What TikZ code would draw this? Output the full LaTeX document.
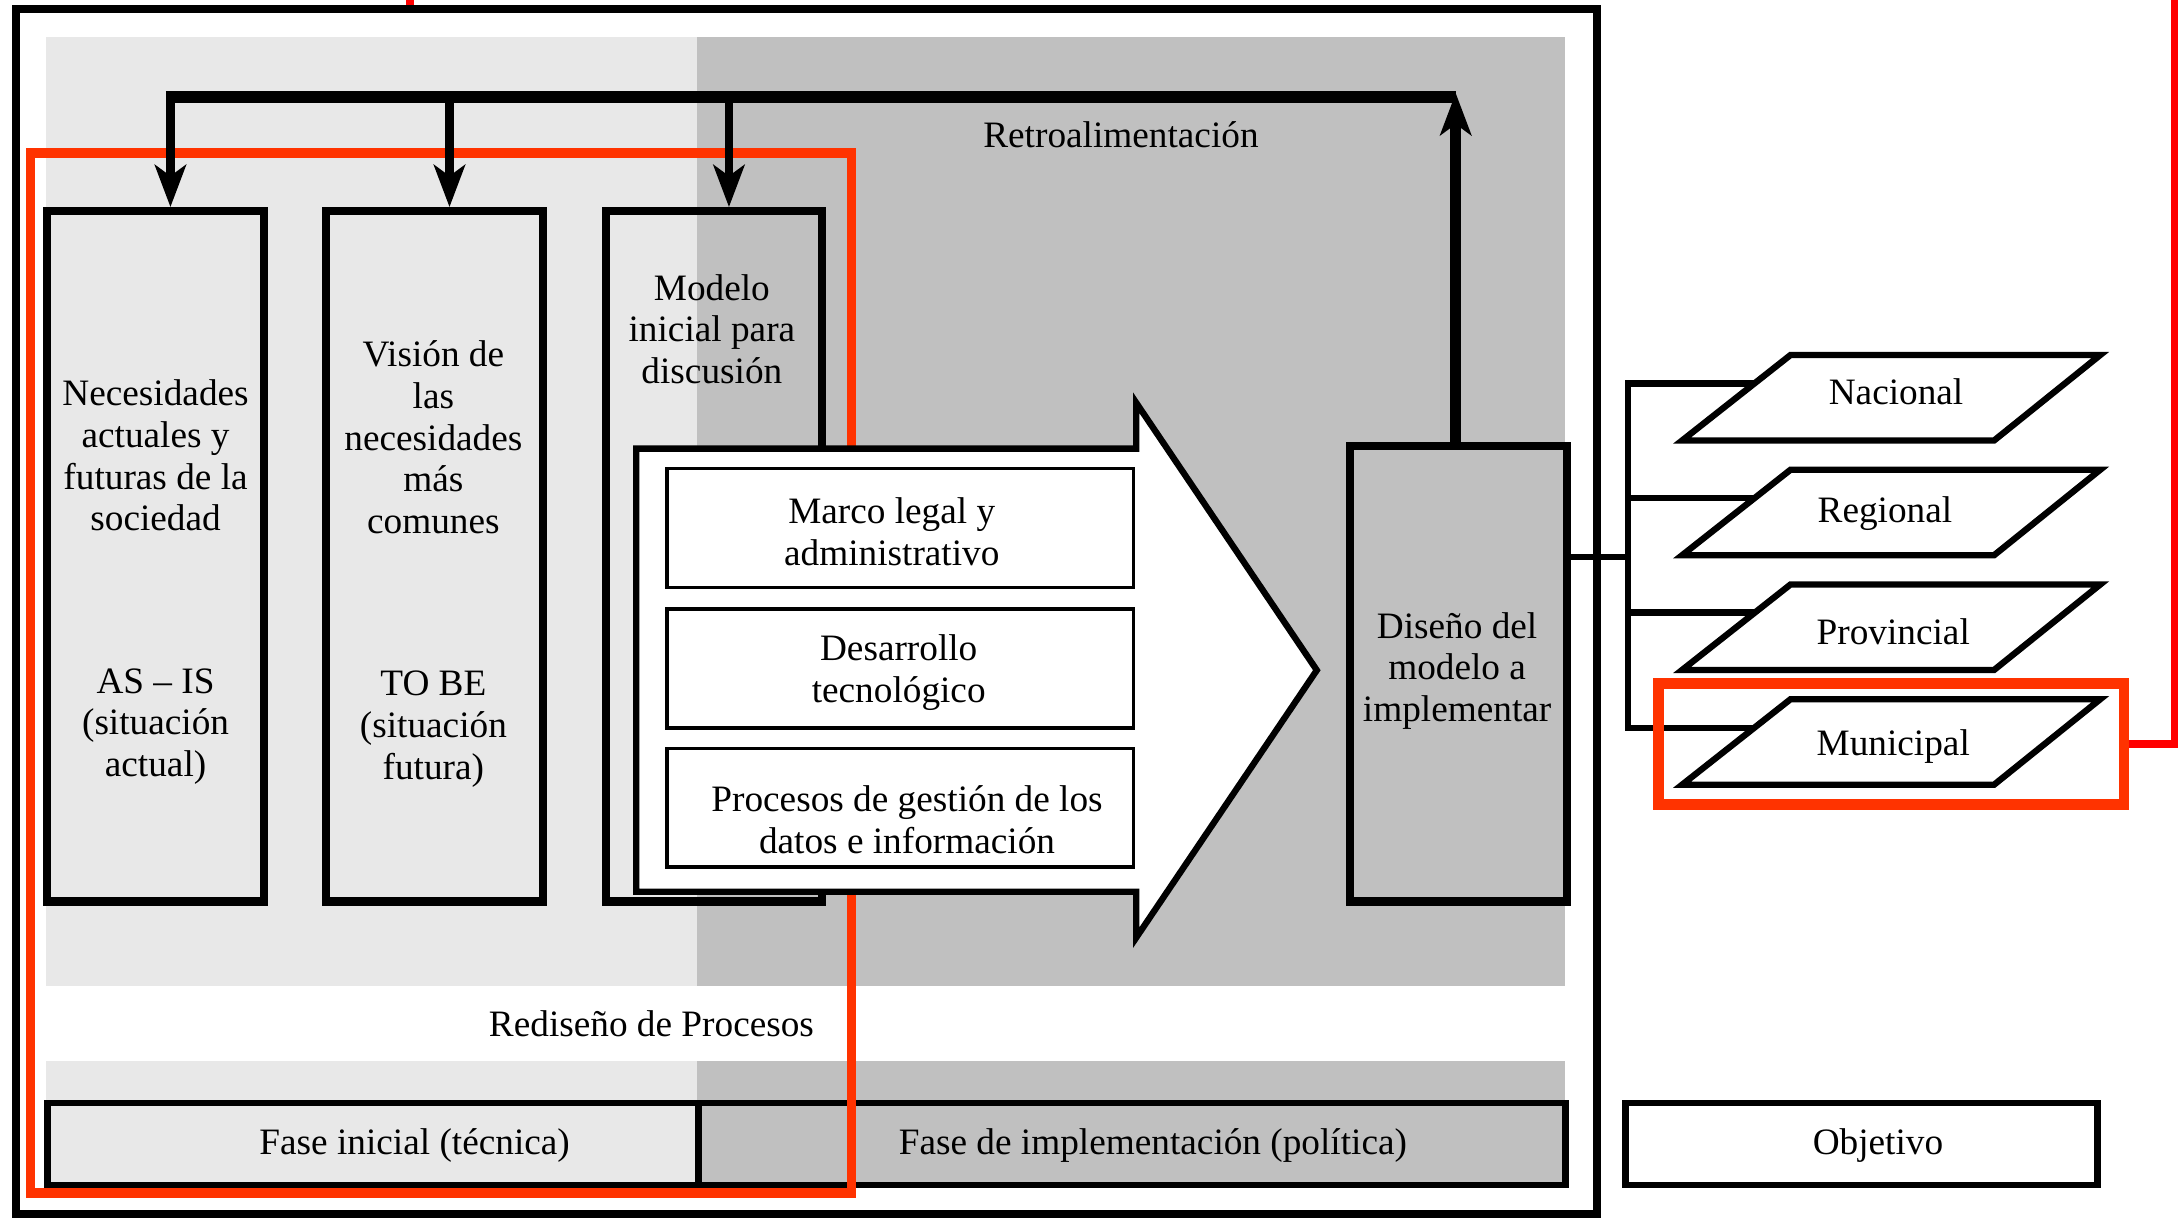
\documentclass[tikz,border=0pt]{standalone}
\usepackage{fontspec}
\setmainfont{Liberation Serif}
\usetikzlibrary{arrows.meta}
\definecolor{lgray}{HTML}{E8E8E8}
\definecolor{dgray}{HTML}{C0C0C0}
\definecolor{redo}{HTML}{FF3300}
\definecolor{redp}{HTML}{FF0000}
\def\myu{0.0138903cm}
\begin{document}
\begin{tikzpicture}[x=0.0138903cm, y=-0.0138903cm,
  txt/.style={font=\fontsize{10.6}{11.85}\selectfont, align=center, inner sep=0pt},
  col/.style={draw, line width=2.3pt, inner sep=0pt, minimum width=156*\myu, minimum height=497*\myu},
  inbox/.style={draw, line width=1pt, fill=white, inner sep=0pt, minimum width=336*\myu, minimum height=85.6*\myu},
  phase/.style={draw, line width=1.9pt, inner sep=0pt, minimum height=59*\myu},
  stemarrow/.style={line width=2.4pt, -{Stealth[length=0.42cm, width=0.31cm, inset=0.11cm]}},
  uparrow/.style={line width=3pt, -{Stealth[length=0.42cm, width=0.31cm, inset=0.11cm]}},
  conn/.style={line width=1.8pt, line join=miter},
  para/.style={draw, line width=1.8pt, fill=white, line join=miter},
  redline/.style={draw=redp, line width=2.3pt}
]
\useasboundingbox (0,0) rectangle (1568,877);

% backgrounds
\fill[lgray] (33,26.6) rectangle (502,710);
\fill[dgray] (502,26.6) rectangle (1127,710);
\fill[lgray] (33,764) rectangle (502,794);
\fill[dgray] (502,764) rectangle (1127,794);

% outer frame
\node[draw, line width=2.3pt, inner sep=0pt, minimum width=1138.5*\myu, minimum height=867.5*\myu] (frame) at (580.75,440.25) {};

% phase bar
\node[phase, fill=lgray, minimum width=469*\myu] (ph1) at (268.5,823.5) {};
\node[phase, fill=dgray, minimum width=624*\myu] (ph2) at (815,823.5) {};
\node[phase, fill=white, minimum width=340*\myu] (obj) at (1340,823.5) {};
\node[txt] (tph1) at (298.5,825) {Fase inicial (técnica)};
\node[txt] (tph2) at (830,825) {Fase de implementación (política)};
\node[txt] (tobj) at (1352,825) {Objetivo};
\node[txt] (tred) at (469,737) {Rediseño de Procesos};
\node[txt] (tretro) at (807,97) {Retroalimentación};

% column boxes
\node[col] (b1) at (112,400.5) {};
\node[col] (b2) at (313,400.5) {};
\node[col] (b3) at (514,400.5) {};
\node[col, minimum height=328*\myu] (dis) at (1050,485) {};

\node[txt] (t1a) at (112,328) {Necesidades\\actuales y\\futuras de la\\sociedad};
\node[txt] (t1b) at (112,523) {AS – IS\\(situación\\actual)};
\node[txt] (t2a) at (312,315) {Visión de\\las\\necesidades\\más\\comunes};
\node[txt] (t2b) at (312,525) {TO BE\\(situación\\futura)};
\node[txt] (t3a) at (512.5,237) {Modelo\\inicial para\\discusión};
\node[txt] (tdis) at (1049,483) {Diseño del\\modelo a\\implementar};

% red focus rectangle
\node[draw=redo, line width=2.8pt, inner sep=0pt, minimum width=591*\myu, minimum height=749*\myu] (focus) at (317.5,484.5) {};

% big arrow
\draw[line width=1.8pt, fill=white, line join=miter] (458,323) -- (818,323) -- (818,290) -- (948,482.5) -- (818,675) -- (818,642) -- (458,642) -- cycle;
\node[inbox] (ma) at (648,380) {};
\node[inbox] (mb) at (648,481.3) {};
\node[inbox] (mc) at (648,581.5) {};
\node[txt] (tma) at (642,383) {Marco legal y\\administrativo};
\node[txt] (tmb) at (647,484) {Desarrollo\\tecnológico};
\node[txt] (tmc) at (653,590) {Procesos de gestión de los\\datos e información};

% feedback arrows
\coordinate (s1) at (122.7,70);
\coordinate (s2) at (323.6,70);
\coordinate (s3) at (524.8,70);
\coordinate (bl) at (119.5,70);
\coordinate (rt) at (1048,70);
\coordinate (rtip) at (1048,67);
\draw[uparrow] (rtip |- dis.north) -- (rtip);
\draw[line width=3.3pt] (bl) -- (rt);
\draw[stemarrow] (s1) -- (s1 |- b1.north);
\draw[stemarrow] (s2) -- (s2 |- b2.north);
\draw[stemarrow] (s3) -- (s3 |- b3.north);

% levels
\coordinate (j0) at (1172,401);
\coordinate (nacL) at (1264,276);
\coordinate (regL) at (1264,358.6);
\coordinate (proL) at (1264,441);
\coordinate (munL) at (1264,524);
\draw[conn] (j0 -| dis.east) -- (j0);
\draw[conn] (nacL) -- (nacL -| j0) -- (munL -| j0) -- (munL);
\draw[conn] (regL -| j0) -- (regL);
\draw[conn] (proL -| j0) -- (proL);

\foreach \t in {255.6, 338.2, 420.8, 503.4}{
  \draw[para] (1289,\t) -- (1512,\t) -- (1435.6,\t+61.5) -- (1211,\t+61.5) -- cycle;
}
\node[txt] (nac) at (1365,282) {Nacional};
\node[txt] (reg) at (1357,369.6) {Regional};
\node[txt] (pro) at (1363,455) {Provincial};
\node[txt] (mun) at (1363,537.6) {Municipal};

% red highlight on Municipal
\node[draw=redo, line width=3pt, inner sep=0pt, minimum width=335*\myu, minimum height=87*\myu] (munbox) at (1361.5,535.5) {};
\coordinate (redtop) at (1566,0);
\draw[redline] (munbox.east) -- (munbox.east -| redtop) -- (redtop);
\coordinate (stubtop) at (295,0);
\draw[redline] (stubtop) -- (stubtop |- frame.north);
\end{tikzpicture}
\end{document}
